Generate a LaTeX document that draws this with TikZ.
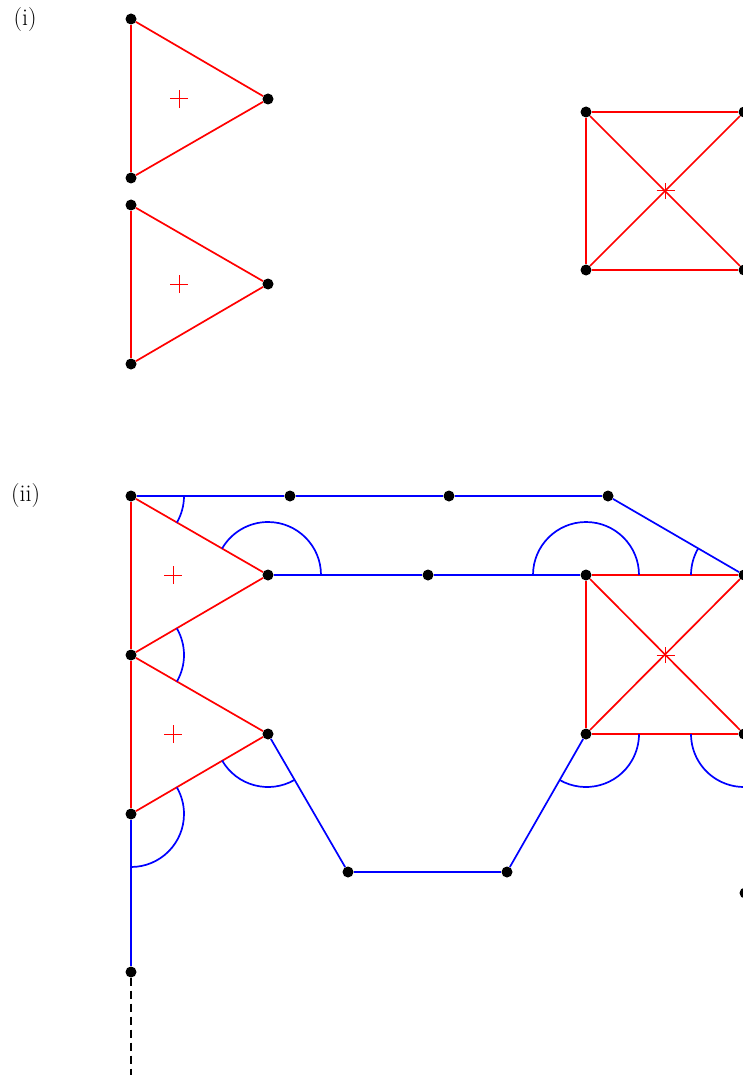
\documentclass[tikz,border=0pt]{standalone}
\begin{document}
\begin{tikzpicture}[x=1pt,y=1pt,
  dot/.style={circle,fill=black,inner sep=0pt,minimum size=11pt},
  redl/.style={draw=red,line width=1.7pt},
  bluel/.style={draw=blue,line width=1.7pt},
  ang/.style={draw=blue,line width=1.7pt},
  mk/.style={draw=red,line width=1pt},
  lbl/.style={font=\fontsize{24}{28}\selectfont,inner sep=0pt}]
\useasboundingbox (0,0) rectangle (743,-1075);
\clip (0,0) rectangle (743,-1075);

% labels
\node[lbl] (li) at (25,-20) {(i)};
\node[lbl] (lii) at (25.5,-496) {(ii)};

% ---------- part (i) ----------
\node[dot] (p1) at (131,-19) {};
\node[dot] (p2) at (131,-178) {};
\node[dot] (p3) at (268,-99) {};
\node[dot] (q1) at (131,-205) {};
\node[dot] (q2) at (131,-364) {};
\node[dot] (q3) at (268,-284) {};
\node[dot] (s1) at (586,-112) {};
\node[dot] (s2) at (744,-112) {};
\node[dot] (s3) at (586,-270) {};
\node[dot] (s4) at (744,-270) {};
\coordinate (c1) at (179,-99);
\coordinate (c2) at (179,-284);
\coordinate (c3) at (665.5,-191);

\draw[redl] (p1) -- (p2); \draw[redl] (p1) -- (p3); \draw[redl] (p3) -- (p2);
\draw[redl] (q1) -- (q2); \draw[redl] (q1) -- (q3); \draw[redl] (q3) -- (q2);
\draw[redl] (s1) -- (s2); \draw[redl] (s1) -- (s3); \draw[redl] (s3) -- (s4);
\draw[redl] (s2) -- (s4); \draw[redl] (s1) -- (s4); \draw[redl] (s2) -- (s3);

\draw[mk] (c1) ++(-9,0) -- ++(18,0) (c1) ++(0,-9) -- ++(0,18);
\draw[mk] (c2) ++(-9,0) -- ++(18,0) (c2) ++(0,-9) -- ++(0,18);
\draw[mk] (c3) ++(-9,0) -- ++(18,0) (c3) ++(0,-8) -- ++(0,16);

% ---------- part (ii) ----------
\node[dot] (a1) at (131,-496) {};
\node[dot] (a2) at (131,-655) {};
\node[dot] (a3) at (268,-575) {};
\node[dot] (a4) at (268,-734) {};
\node[dot] (a5) at (131,-814) {};
\node[dot] (a6) at (131,-972) {};
\node[dot] (b1) at (290,-496) {};
\node[dot] (b2) at (449,-496) {};
\node[dot] (b3) at (608,-496) {};
\node[dot] (m1) at (428,-575) {};
\node[dot] (r1) at (586,-575) {};
\node[dot] (r2) at (744,-575) {};
\node[dot] (r3) at (586,-734) {};
\node[dot] (r4) at (744,-734) {};
\node[dot] (l1) at (348,-872) {};
\node[dot] (l2) at (507,-872) {};
\node[dot] (e1) at (745,-893) {};
\coordinate (dend) at (131,-1085);
\coordinate (c4) at (173,-575);
\coordinate (c5) at (173,-734);
\coordinate (c6) at (665.5,-655);

% red
\draw[redl] (a1) -- (a2); \draw[redl] (a2) -- (a5);
\draw[redl] (a1) -- (a3); \draw[redl] (a3) -- (a2);
\draw[redl] (a2) -- (a4); \draw[redl] (a4) -- (a5);
\draw[redl] (r1) -- (r2); \draw[redl] (r1) -- (r3); \draw[redl] (r3) -- (r4);
\draw[redl] (r2) -- (r4); \draw[redl] (r1) -- (r4); \draw[redl] (r2) -- (r3);
\draw[mk] (c4) ++(-9,0) -- ++(18,0) (c4) ++(0,-9) -- ++(0,18);
\draw[mk] (c5) ++(-9,0) -- ++(18,0) (c5) ++(0,-9) -- ++(0,18);
\draw[mk] (c6) ++(-9,0) -- ++(18,0) (c6) ++(0,-8) -- ++(0,16);

% blue
\draw[bluel] (a1) -- (b1); \draw[bluel] (b1) -- (b2); \draw[bluel] (b2) -- (b3);
\draw[bluel] (b3) -- (r2);
\draw[bluel] (a3) -- (m1); \draw[bluel] (m1) -- (r1);
\draw[bluel] (a4) -- (l1); \draw[bluel] (l1) -- (l2); \draw[bluel] (l2) -- (r3);
\draw[bluel] (a5) -- (a6);
\draw[black,line width=1.6pt,dash pattern=on 8pt off 5pt] (a6) -- (dend);

% angle arcs
\draw[ang] (a1.center) ++(0:53) arc[start angle=0,end angle=-30,radius=53];
\draw[ang] (a3.center) ++(0:53) arc[start angle=0,end angle=150,radius=53];
\draw[ang] (a2.center) ++(-30:53) arc[start angle=-30,end angle=30,radius=53];
\draw[ang] (a4.center) ++(210:53) arc[start angle=210,end angle=300,radius=53];
\draw[ang] (a5.center) ++(-90:53) arc[start angle=-90,end angle=30,radius=53];
\draw[ang] (r1.center) ++(0:53) arc[start angle=0,end angle=180,radius=53];
\draw[ang] (r2.center) ++(150:53) arc[start angle=150,end angle=180,radius=53];
\draw[ang] (r3.center) ++(240:53) arc[start angle=240,end angle=360,radius=53];
\draw[ang] (r4.center) ++(180:53) arc[start angle=180,end angle=280,radius=53];
\end{tikzpicture}
\end{document}
